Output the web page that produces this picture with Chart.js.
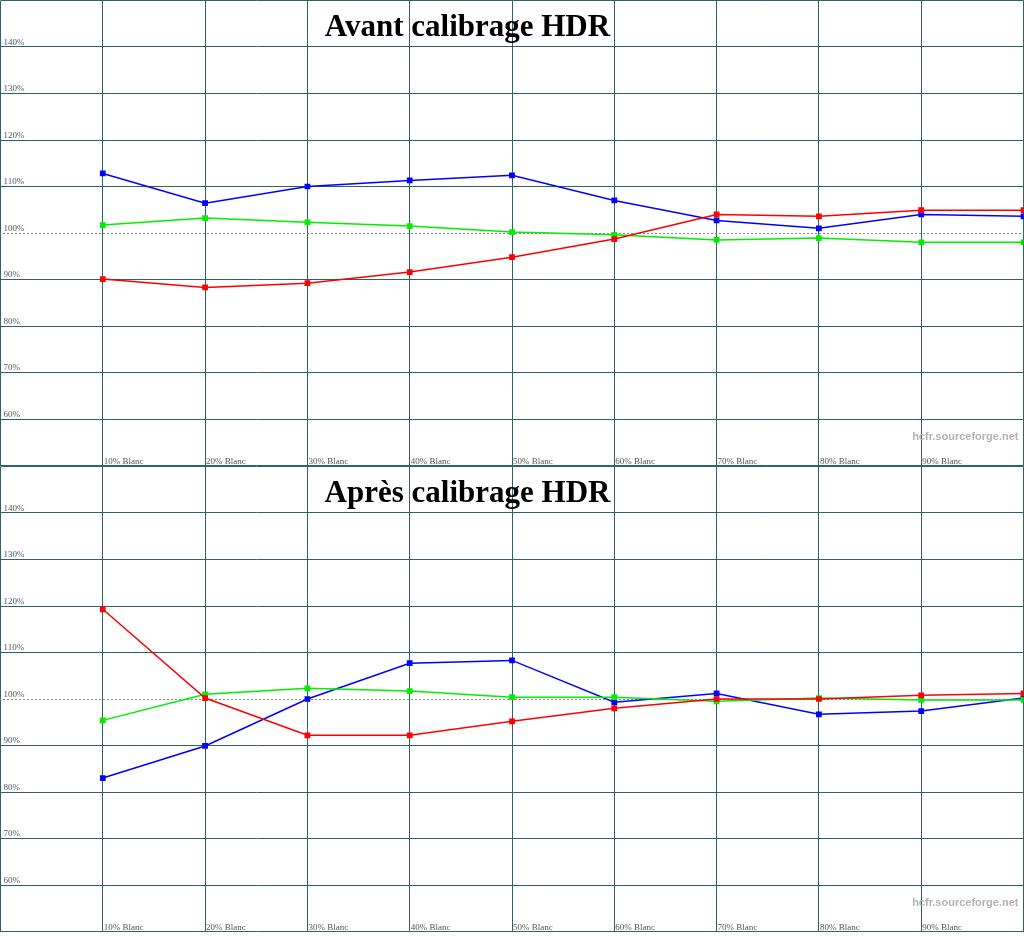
<!DOCTYPE html>
<html>
<head>
<meta charset="utf-8">
<script src="https://cdn.jsdelivr.net/npm/chart.js@4/dist/chart.umd.min.js"></script>
<style>
  body { margin: 0; background: #fff; }
  .wrap { width: 1024px; height: 466px; overflow: hidden; position: relative; }
  .box { width: 1034px; height: 476px; position: absolute; left: -5px; top: -5px; }
</style>
</head>
<body>
<div class="wrap"><div class="box"><canvas id="avant"></canvas></div></div>
<div class="wrap"><div class="box"><canvas id="apres"></canvas></div></div>
<script>
const categories = ["10% Blanc", "20% Blanc", "30% Blanc", "40% Blanc", "50% Blanc",
  "60% Blanc", "70% Blanc", "80% Blanc", "90% Blanc", "100% Blanc"];
const yTicks = [60, 70, 80, 90, 100, 110, 120, 130, 140];

const avantRed = [90.1, 88.3, 89.2, 91.6, 94.8, 98.7, 104.0, 103.6, 104.9, 104.9];
const avantGreen = [101.7, 103.2, 102.3, 101.5, 100.2, 99.6, 98.5, 98.9, 98.0, 98.0];
const avantBlue = [112.8, 106.4, 110.0, 111.3, 112.4, 107.0, 102.7, 101.0, 104.0, 103.6];

const apresRed = [119.3, 100.2, 92.2, 92.2, 95.2, 98.0, 100.0, 100.0, 100.8, 101.2];
const apresGreen = [95.4, 101.0, 102.3, 101.7, 100.4, 100.4, 99.5, 100.2, 99.8, 99.8];
const apresBlue = [83.0, 89.9, 100.0, 107.7, 108.3, 99.3, 101.2, 96.7, 97.4, 100.2];

const gridColor = "#2f6262";

const decor = {
  id: "decor",
  beforeDatasetsDraw(chart) {
    const { ctx, chartArea: a, scales: { x, y } } = chart;
    const y100 = y.getPixelForValue(100);
    ctx.save();
    ctx.strokeStyle = "#888";
    ctx.lineWidth = 1;
    ctx.setLineDash([2, 2]);
    ctx.beginPath();
    ctx.moveTo(0, Math.round(y100) + 0.5);
    ctx.lineTo(chart.width, Math.round(y100) + 0.5);
    ctx.stroke();
    ctx.setLineDash([]);
    ctx.fillStyle = "#555";
    ctx.font = "9px 'Liberation Serif', serif";
    ctx.textBaseline = "bottom";
    ctx.textAlign = "left";
    yTicks.forEach(v => ctx.fillText(v + "%", a.left + 3, y.getPixelForValue(v)));
    ctx.textBaseline = "middle";
    categories.forEach((c, i) => {
      ctx.fillText(c, x.getPixelForValue(i + 1) + 1, a.top + 461);
    });
    ctx.restore();
  },
  afterDraw(chart) {
    const { ctx, chartArea: a } = chart;
    const o = chart.options.plugins.decor;
    ctx.save();
    ctx.fillStyle = "#000";
    ctx.font = "bold 31px 'Liberation Serif', serif";
    ctx.textAlign = "center";
    ctx.textBaseline = "middle";
    ctx.fillText(o.title, a.left + 467, a.top + 27);
    ctx.fillStyle = "#b4b4b4";
    ctx.font = "bold 11px 'Liberation Sans', sans-serif";
    ctx.textAlign = "right";
    ctx.fillText("hcfr.sourceforge.net", a.left + 1018, a.top + 436);
    ctx.restore();
  }
};

function makeChart(id, title, red, green, blue) {
  const series = (data, color) => ({
    data: data.map((v, i) => ({ x: i + 1, y: v })),
    borderColor: color,
    backgroundColor: color,
    borderWidth: 1.5,
    pointStyle: "rect",
    pointRadius: 3,
    tension: 0
  });
  new Chart(document.getElementById(id), {
    type: "line",
    data: { datasets: [series(red, "#ff0000"), series(green, "#00ee00"), series(blue, "#0000ff")] },
    plugins: [decor],
    options: {
      responsive: true,
      maintainAspectRatio: false,
      animation: false,
      layout: { padding: 0 },
      plugins: { legend: { display: false }, tooltip: { enabled: false }, decor: { title } },
      scales: {
        x: {
          type: "linear", min: 0, max: 10,
          ticks: { display: false, stepSize: 1 },
          grid: { color: gridColor, drawTicks: false },
          border: { display: false }
        },
        y: {
          min: 50, max: 150,
          ticks: { display: false, stepSize: 10 },
          grid: { color: ctx => ctx.tick && ctx.tick.value === 100 ? "transparent" : gridColor, drawTicks: false },
          border: { display: false }
        }
      }
    }
  });
}

makeChart("avant", "Avant calibrage HDR", avantRed, avantGreen, avantBlue);
makeChart("apres", "Après calibrage HDR", apresRed, apresGreen, apresBlue);
</script>
</body>
</html>
